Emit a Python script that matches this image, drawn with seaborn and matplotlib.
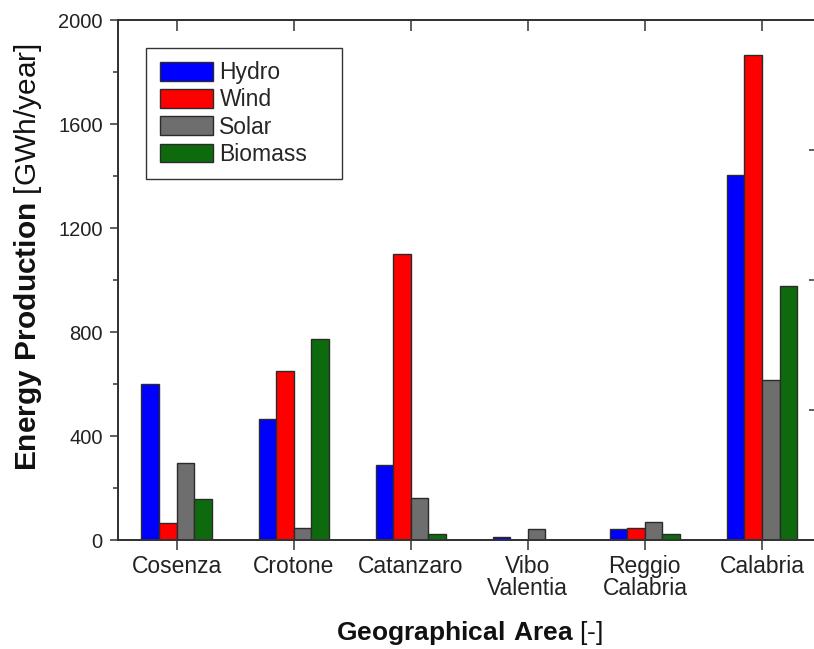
import matplotlib
matplotlib.use("Agg")
import matplotlib.pyplot as plt
from matplotlib.ticker import MultipleLocator
import numpy as np
import pandas as pd
import seaborn as sns

# Annual renewable energy production by area (GWh/year)
areas = ["Cosenza", "Crotone", "Catanzaro", "Vibo\nValentia", "Reggio\nCalabria", "Calabria"]
sources = ["Hydro", "Wind", "Solar", "Biomass"]
hydro = [600, 464, 287, 10, 41, 1404]
wind = [65, 651, 1100, 0, 47, 1864]
solar = [298, 47, 161, 43, 68, 614]
biomass = [156, 775, 24, 0, 22, 978]
colors = ["#0000FF", "#FF0000", "#6E6E6E", "#0D6B0D"]

df = pd.DataFrame({
    "Area": np.repeat(areas, len(sources)),
    "Source": sources * len(areas),
    "Energy": np.ravel(np.column_stack([hydro, wind, solar, biomass])),
})

sns.set_style("ticks")
plt.rcParams["font.family"] = ["Liberation Sans", "DejaVu Sans"]
plt.rcParams["mathtext.fontset"] = "custom"
plt.rcParams["mathtext.rm"] = "Liberation Sans"
plt.rcParams["mathtext.bf"] = "Liberation Sans:bold"

W, H = 814, 649
fig = plt.figure(figsize=(W / 100, H / 100), dpi=100)
ax = fig.add_axes([118 / W, 109 / H, 702.5 / W, 520 / H])

sns.barplot(data=df, x="Area", y="Energy", hue="Source", order=areas,
            hue_order=sources, palette=colors, width=0.6, saturation=1,
            edgecolor="#2b2b2b", linewidth=1.0, ax=ax)

edge = "#333333"
ax.set_xlim(-0.5, 5.5)
ax.set_ylim(0, 2000)
ax.yaxis.set_major_locator(MultipleLocator(400))
ax.yaxis.set_minor_locator(MultipleLocator(200))
for s in ax.spines.values():
    s.set_visible(True)
    s.set_color(edge)
    s.set_linewidth(1.3)

ax.tick_params(axis="y", which="major", direction="out", length=6, width=1.1,
               color=edge, labelsize=14.5, pad=5, labelcolor="#222222")
ax.tick_params(axis="y", which="minor", direction="out", length=3.5, width=1.1, color=edge)
ax.tick_params(axis="x", which="major", direction="out", length=7.5, width=1.1,
               color=edge, labelsize=16.5, pad=3, labelcolor="#222222")
for lbl in ax.get_xticklabels():
    lbl.set_linespacing(0.95)

# top axis: inward ticks at each group
top = ax.secondary_xaxis("top")
top.set_xticks(range(len(areas)))
top.set_xticklabels([])
top.tick_params(direction="in", length=8, width=1.1, color=edge)
top.spines["top"].set_color(edge)
top.spines["top"].set_linewidth(1.3)

# right axis: inward ticks, no labels
right = ax.twinx()
right.set_ylim(0, 2000)
right.yaxis.set_major_locator(MultipleLocator(500))
right.yaxis.set_minor_locator(MultipleLocator(250))
right.tick_params(which="major", direction="in", length=9, width=1.1, color=edge, labelright=False)
right.tick_params(which="minor", direction="in", length=4.5, width=1.1, color=edge)
for s in right.spines.values():
    s.set_color(edge)
    s.set_linewidth(1.3)

ax.set_xlabel(r"$\mathbf{Geographical\ Area}$ [-]", fontsize=19, color="#111111", va="top")
ax.xaxis.set_label_coords(0.5, -0.152)
ax.set_ylabel(r"$\mathbf{Energy\ Production}$ [GWh/year]", fontsize=21.5, color="#111111")
ax.yaxis.set_label_coords(-0.106, 0.544)

handles, labels = ax.get_legend_handles_labels()
leg = ax.legend(handles, labels, loc="upper left", bbox_to_anchor=(0.04, 0.0, 0.279, 0.947),
                mode="expand", borderaxespad=0, frameon=True, fancybox=False, shadow=False,
                fontsize=16.5, handlelength=2.3, handleheight=0.85,
                labelspacing=0.18, handletextpad=0.3, borderpad=0.6,
                edgecolor=edge, framealpha=1)
leg.get_frame().set_linewidth(1.0)
for h in leg.legend_handles:
    h.set_edgecolor("#2b2b2b")
    h.set_linewidth(1.0)

fig.savefig("out.png", dpi=100)
